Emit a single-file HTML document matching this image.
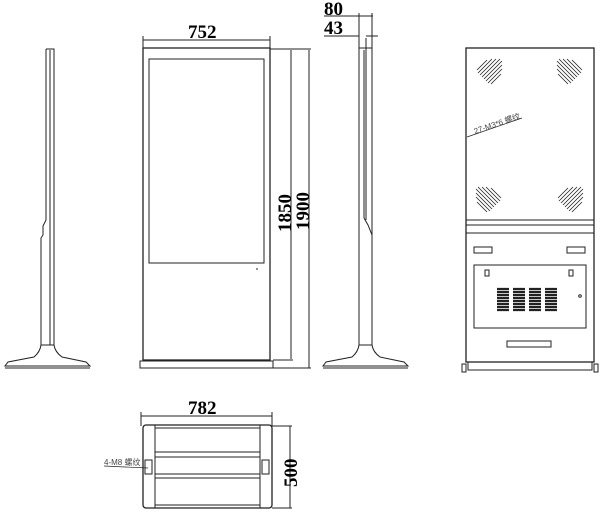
<!DOCTYPE html>
<html><head><meta charset="utf-8"><style>
html,body{margin:0;padding:0;background:#fff;width:609px;height:520px;overflow:hidden}
svg{display:block}
.b{font-family:"Liberation Serif",serif;font-weight:bold;font-size:19px;fill:#000}
</style></head><body>
<svg width="609" height="520" viewBox="0 0 609 520" xmlns="http://www.w3.org/2000/svg" fill="none" stroke="#222" stroke-width="1">
<defs>
<g id="h" stroke-width="0.8">
<path d="M-12 6 l10 -10 M-11 9 l14 -14 M-9 11 l16 -16 M-7 13 l18 -18 M-5 15 l18 -18 M-3 17 l16 -16 M-1 19 l14 -14 M2 20 l10 -10" transform="translate(0,-7)"/>
</g>
</defs>
<!-- LEFT SIDE VIEW -->
<path d="M46 49 L54 49 L54 345 M46 49 L46 220 L43 226 L43 235 L41 238 L41 345" />
<line x1="50" y1="50" x2="50" y2="345"/>
<path d="M41 345 L54 345 M41 345 Q40 352 34 357 L8 362 L5 366 L90 366 L86 362 L62 357 Q55 352 54 345"/>
<line x1="5" y1="368" x2="90" y2="368"/>
<line x1="41" y1="288" x2="41" y2="322" stroke-dasharray="1.5,1.5"/>

<!-- FRONT VIEW -->
<rect x="143" y="48" width="127" height="312" stroke-width="1.3"/>
<rect x="149" y="59" width="115" height="204"/>
<rect x="140" y="361" width="133" height="7"/>
<line x1="256" y1="269" x2="258" y2="269"/>
<line x1="143" y1="40" x2="270" y2="40"/>
<line x1="143" y1="36" x2="143" y2="48"/><line x1="270" y1="36" x2="270" y2="48"/>
<text class="b" x="188" y="38" stroke="none">752</text>
<line x1="270" y1="49" x2="311" y2="49"/>
<line x1="291" y1="50" x2="291" y2="359"/>
<line x1="309" y1="50" x2="309" y2="368"/>
<line x1="273" y1="360" x2="293" y2="360"/>
<line x1="273" y1="368" x2="311" y2="368"/>
<text class="b" transform="translate(291,232) rotate(-90)" stroke="none">1850</text>
<text class="b" transform="translate(309,230) rotate(-90)" stroke="none">1900</text>

<!-- RIGHT SIDE VIEW -->
<path d="M359 48 L372 48 L372 345 M359 48 L359 345"/>
<line x1="364" y1="50" x2="364" y2="218"/>
<line x1="366" y1="38" x2="366" y2="220"/>
<path d="M364 218 L368 225 L372 235"/>
<line x1="372" y1="288" x2="372" y2="322" stroke-dasharray="1.5,1.5"/>
<path d="M359 345 L372 345 M359 345 Q358 352 352 357 L326 362 L323 366 L408 366 L404 362 L380 357 Q373 352 372 345"/>
<line x1="323" y1="368" x2="408" y2="368"/>
<line x1="324" y1="16" x2="373" y2="16"/>
<line x1="359" y1="13" x2="359" y2="48"/><line x1="372" y1="13" x2="372" y2="48"/>
<line x1="324" y1="36" x2="359" y2="36"/><line x1="366" y1="36" x2="378" y2="36"/>
<text class="b" x="324" y="15" stroke="none">80</text>
<text class="b" x="324" y="34" stroke="none">43</text>

<!-- BACK VIEW -->
<rect x="466" y="48" width="128" height="314" stroke-width="1.3"/>
<line x1="466" y1="220" x2="594" y2="220"/>
<line x1="466" y1="225" x2="594" y2="225"/>
<line x1="466" y1="233" x2="594" y2="233"/>
<rect x="474" y="247" width="18" height="6"/>
<rect x="567" y="247" width="18" height="6"/>
<rect x="474" y="265" width="112" height="63"/>
<rect x="468" y="362" width="124" height="8"/>
<rect x="462" y="364" width="4" height="8"/><rect x="594" y="364" width="4" height="8"/>
<use href="#h" transform="translate(489,71)"/>
<use href="#h" transform="translate(570,71) scale(-1,1)"/>
<use href="#h" transform="translate(489,199) scale(-1,1)"/>
<use href="#h" transform="translate(570,199)"/>
<line x1="467" y1="137" x2="522" y2="118" stroke-width="0.7"/>
<text x="475" y="134" transform="rotate(-19 475 134)" font-family="Liberation Sans,sans-serif" font-size="8" fill="#444" stroke="none">27-M3*6 螺纹</text>
<g stroke-width="2.2">
<path d="M497 289h12M497 292h12M497 295h12M497 298h12M497 301h12M497 304h12M497 307h12M497 310h12"/>
<path d="M513 289h12M513 292h12M513 295h12M513 298h12M513 301h12M513 304h12M513 307h12M513 310h12"/>
<path d="M529 289h12M529 292h12M529 295h12M529 298h12M529 301h12M529 304h12M529 307h12M529 310h12"/>
<path d="M545 289h12M545 292h12M545 295h12M545 298h12M545 301h12M545 304h12M545 307h12M545 310h12"/>
</g>
<rect x="485" y="270" width="4" height="6"/><rect x="569" y="270" width="4" height="6"/>
<circle cx="580" cy="296" r="1.3"/>
<rect x="507" y="341" width="44" height="6"/>

<!-- BOTTOM VIEW -->
<line x1="141" y1="416" x2="272" y2="416"/>
<line x1="141" y1="412" x2="141" y2="426"/><line x1="272" y1="412" x2="272" y2="426"/>
<text class="b" x="188" y="414" stroke="none">782</text>
<rect x="143" y="425" width="129" height="83" rx="3" stroke-width="1.3"/>
<line x1="155" y1="425" x2="155" y2="508"/><line x1="260" y1="425" x2="260" y2="508"/>
<line x1="155" y1="428" x2="260" y2="428"/>
<line x1="155" y1="452" x2="260" y2="452"/>
<line x1="155" y1="457" x2="260" y2="457"/>
<line x1="155" y1="474" x2="260" y2="474"/>
<line x1="155" y1="478" x2="260" y2="478"/>
<line x1="155" y1="505" x2="260" y2="505"/>
<rect x="145" y="460" width="7" height="14"/><rect x="262" y="460" width="7" height="14"/>
<line x1="272" y1="426" x2="292" y2="426"/><line x1="272" y1="508" x2="292" y2="508"/>
<line x1="290" y1="426" x2="290" y2="508"/>
<text class="b" transform="translate(297,487) rotate(-90)" stroke="none">500</text>
<line x1="104" y1="466" x2="148" y2="468" stroke-width="0.7"/>
<text x="104" y="465" font-family="Liberation Sans,sans-serif" font-size="8" fill="#444" stroke="none">4-M8 螺纹</text>
</svg>
</body></html>
